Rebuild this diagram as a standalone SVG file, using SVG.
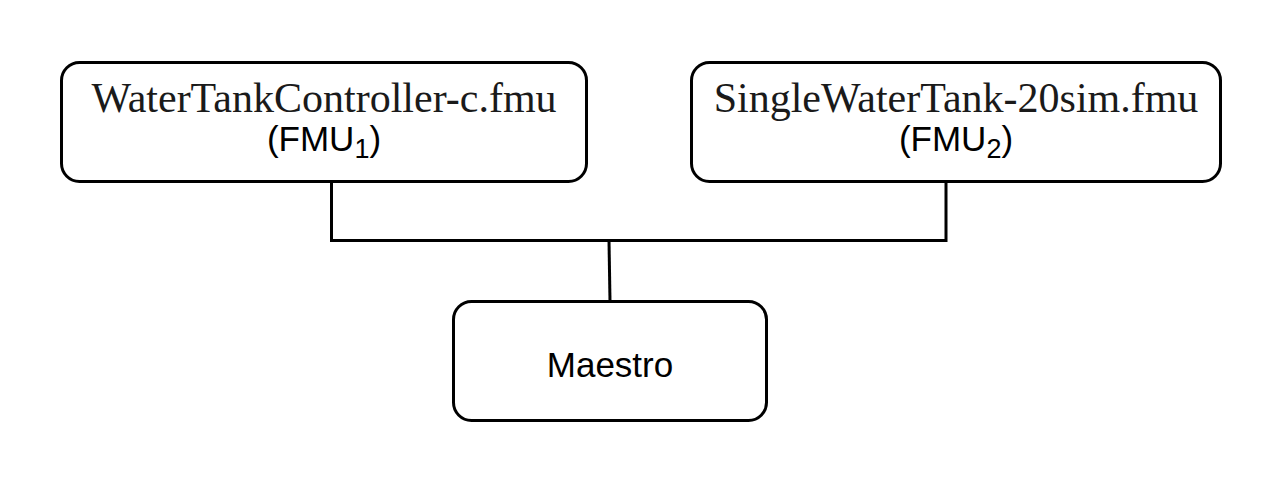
<svg xmlns="http://www.w3.org/2000/svg" width="1284" height="485" viewBox="0 0 1284 485">
<style>
.box{fill:#fff;stroke:#000;stroke-width:3}
.wire{fill:none;stroke:#000;stroke-width:3}
.serif{font-family:"Liberation Serif","Times New Roman",serif;font-size:42px;fill:#1a1a1a}
.sans{font-family:"Liberation Sans",Arial,sans-serif;font-size:35px;fill:#000}
.sub{font-size:27px}
</style>
<rect width="1284" height="485" fill="#fff"/>
<g id="connectors">
<path class="wire" d="M331.5,182 V240.5 H946 V182"/>
<path class="wire" d="M609,240.5 L610,301"/>
</g>
<g id="fmu1">
<rect class="box" x="61.5" y="62.5" width="525" height="119" rx="18"/>
<text class="serif" x="324" y="112" text-anchor="middle">WaterTankController-c.fmu</text>
<text class="sans" x="324" y="151" text-anchor="middle">(FMU<tspan class="sub" dy="7">1</tspan><tspan dy="-7">)</tspan></text>
</g>
<g id="fmu2">
<rect class="box" x="691.5" y="62.5" width="529" height="119" rx="18"/>
<text class="serif" x="956" y="112" text-anchor="middle">SingleWaterTank-20sim.fmu</text>
<text class="sans" x="956" y="151" text-anchor="middle">(FMU<tspan class="sub" dy="7">2</tspan><tspan dy="-7">)</tspan></text>
</g>
<g id="maestro">
<rect class="box" x="453.5" y="301.5" width="313" height="119" rx="18"/>
<text class="sans" x="610" y="377" text-anchor="middle">Maestro</text>
</g>
</svg>
